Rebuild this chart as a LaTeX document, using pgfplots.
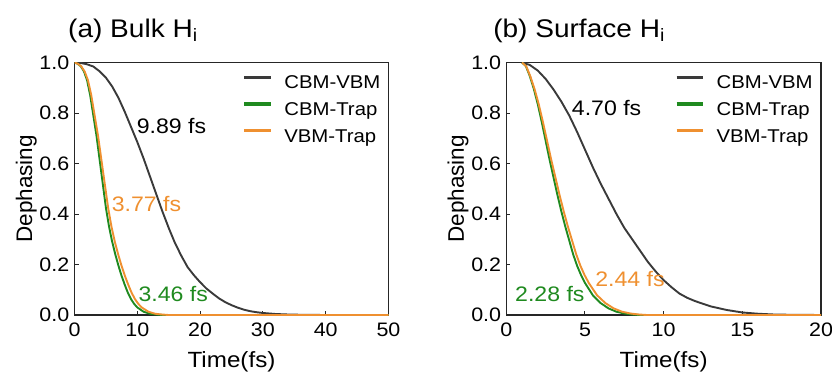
\documentclass[border=0pt]{standalone}
\usepackage{fontspec}
\setmainfont[FakeStretch=1.1]{Liberation Sans}
\newfontfamily\plainfont{Liberation Sans}
\usepackage{pgfplots}
\pgfplotsset{compat=1.18}
\definecolor{cgray}{HTML}{3A3A3A}
\definecolor{cgreen}{HTML}{1F8A1F}
\definecolor{corange}{HTML}{EF9030}
\newcommand{\tickfont}{\fontsize{19.5}{21}\selectfont}
\newcommand{\legfont}{\fontsize{18.5}{20}\selectfont}
\newcommand{\labfont}{\fontsize{22}{24}\selectfont}
\newcommand{\annfont}{\fontsize{21}{23}\selectfont}
\newcommand{\titfont}{\fontsize{25.5}{27}\selectfont}
\pgfplotsset{
  dph/.style={
    scale only axis, height=252.5pt,
    ymin=0, ymax=1, ytick={0,0.2,0.4,0.6,0.8,1.0},
    tick align=inside, xtick pos=lower, ytick pos=left,
    major tick length=4pt,
    axis line style={line width=1.1pt, draw=black!85},
    every tick/.style={line width=1pt, black!85},
    /pgf/number format/assume math mode=true,
    ticklabel style={font=\tickfont},
    xticklabel style={inner sep=0pt, yshift=-8pt},
    yticklabel style={inner sep=0pt, xshift=-5pt, /pgf/number format/fixed, /pgf/number format/fixed zerofill, /pgf/number format/precision=1},
    every axis x label/.style={at={(axis description cs:0.5,-0.208)}, anchor=base, font=\labfont},
    every axis y label/.style={at={(axis description cs:-0.135,0.5)}, rotate=90, anchor=base, font=\plainfont\fontsize{22.5}{24}\selectfont},
    xlabel={Time(fs)}, ylabel={Dephasing},
    title style={anchor=base west, font=\titfont, inner sep=0pt},
    legend cell align=left,
    legend image code/.code={\draw[#1, line width=3.3pt] (0pt,6.7pt) -- (26.6pt,6.7pt);},
    legend style={draw=none, fill=none, inner sep=0pt, outer sep=0pt, anchor=north west, font=\legfont, row sep=9.2pt, nodes={inner sep=0pt, text height=13.5pt, text depth=4pt}, /tikz/every odd column/.append style={column sep=11.7pt}},
    every axis plot/.append style={line width=1.9pt},
  }
}
\begin{document}
\begin{tikzpicture}
\useasboundingbox (0,0) rectangle (832pt,373pt);
% ---------------- (a) Bulk
\begin{axis}[dph, at={(74.5pt,58pt)}, anchor=south west, width=314pt,
  xmin=0, xmax=50, xtick={0,10,20,30,40,50},
  title={(a) Bulk H\textsubscript{i}},
  title style={at={(axis description cs:-0.0207,1.076)}},
  legend style={at={(axis description cs:0.5357,0.949)}}]
\addplot[cgray] coordinates {(0,1.0) (1,0.998) (2,0.993) (3,0.984) (4,0.965) (5,0.94) (6,0.905) (7,0.86) (8,0.805) (9,0.745) (10,0.685) (11,0.62) (12,0.55) (13,0.48) (14,0.41) (15,0.345) (16,0.285) (17,0.235) (18,0.19) (19,0.158) (20,0.13) (21,0.105) (22,0.085) (23,0.066) (24,0.051) (25,0.039) (26,0.029) (27,0.021) (28,0.015) (29,0.011) (30,0.008) (32,0.004) (34,0.002) (36,0.001) (40,0.0) (50,0.0)};
\addlegendentry{CBM-VBM}
\addplot[cgreen] coordinates {(0,1.0) (0.5,0.995) (1,0.985) (1.5,0.965) (2,0.93) (2.5,0.87) (3,0.79) (3.5,0.71) (4,0.615) (4.5,0.52) (5,0.425) (5.5,0.35) (6,0.29) (6.5,0.24) (7,0.195) (7.5,0.155) (8,0.12) (8.5,0.088) (9,0.063) (9.5,0.044) (10,0.03) (11,0.013) (12,0.005) (13,0.002) (14,0.0) (50,0.0)};
\addlegendentry{CBM-Trap}
\addplot[corange] coordinates {(0,1.0) (0.535,0.995) (1.07,0.985) (1.605,0.965) (2.14,0.93) (2.675,0.87) (3.21,0.79) (3.745,0.71) (4.28,0.615) (4.815,0.52) (5.35,0.425) (5.885,0.35) (6.42,0.29) (6.955,0.24) (7.49,0.195) (8.025,0.155) (8.56,0.12) (9.095,0.088) (9.63,0.063) (10.165,0.044) (10.7,0.03) (11.77,0.013) (12.84,0.005) (13.91,0.002) (14.98,0.0) (50,0.0)};
\addlegendentry{VBM-Trap}
\node[anchor=base west, font=\annfont, text=black, inner sep=0pt] at (axis cs:9.9,0.72) {9.89 fs};
\node[anchor=base west, font=\annfont, text=corange, inner sep=0pt] at (axis cs:5.92,0.409) {3.77 fs};
\node[anchor=base west, font=\annfont, text=cgreen, inner sep=0pt] at (axis cs:10.16,0.053) {3.46 fs};
\end{axis}
% ---------------- (b) Surface
\begin{axis}[dph, at={(506.3pt,58pt)}, anchor=south west, width=314.7pt,
  xmin=0, xmax=20, xtick={0,5,10,15,20},
  title={(b) Surface H\textsubscript{i}},
  title style={at={(axis description cs:-0.042,1.076)}},
  legend style={at={(axis description cs:0.536,0.949)}}]
\addplot[cgray] coordinates {(1,1.0) (1.5,0.99) (2,0.968) (2.5,0.935) (3,0.893) (3.5,0.845) (4,0.79) (4.5,0.725) (5,0.655) (5.5,0.585) (6,0.52) (6.5,0.46) (7,0.4) (7.5,0.345) (8,0.3) (8.5,0.255) (9,0.21) (9.5,0.172) (10,0.138) (10.5,0.11) (11,0.085) (11.5,0.068) (12,0.055) (13,0.034) (14,0.02) (15,0.01) (16,0.005) (17,0.002) (18,0.001) (20,0.0)};
\addlegendentry{CBM-VBM}
\addplot[cgreen] coordinates {(1,1.0) (1.25,0.985) (1.5,0.945) (1.75,0.895) (2,0.835) (2.25,0.765) (2.5,0.69) (2.75,0.615) (3,0.545) (3.25,0.475) (3.5,0.41) (3.75,0.35) (4,0.295) (4.25,0.24) (4.5,0.195) (4.75,0.158) (5,0.127) (5.5,0.078) (6,0.047) (6.5,0.026) (7,0.013) (7.5,0.006) (8,0.002) (8.5,0.0) (20,0.0)};
\addlegendentry{CBM-Trap}
\addplot[corange] coordinates {(1,1.0) (1.265,0.985) (1.53,0.945) (1.795,0.895) (2.06,0.835) (2.325,0.765) (2.59,0.69) (2.855,0.615) (3.12,0.545) (3.385,0.475) (3.65,0.41) (3.915,0.35) (4.18,0.295) (4.445,0.24) (4.71,0.195) (4.975,0.158) (5.24,0.127) (5.77,0.078) (6.3,0.047) (6.83,0.026) (7.36,0.013) (7.89,0.006) (8.42,0.002) (8.95,0.0) (20,0.0)};
\addlegendentry{VBM-Trap}
\node[anchor=base west, font=\annfont, text=black, inner sep=0pt] at (axis cs:4.16,0.792) {4.70 fs};
\node[anchor=base west, font=\annfont, text=corange, inner sep=0pt] at (axis cs:5.64,0.112) {2.44 fs};
\node[anchor=base west, font=\annfont, text=cgreen, inner sep=0pt] at (axis cs:0.55,0.053) {2.28 fs};
\end{axis}
\end{tikzpicture}
\end{document}
